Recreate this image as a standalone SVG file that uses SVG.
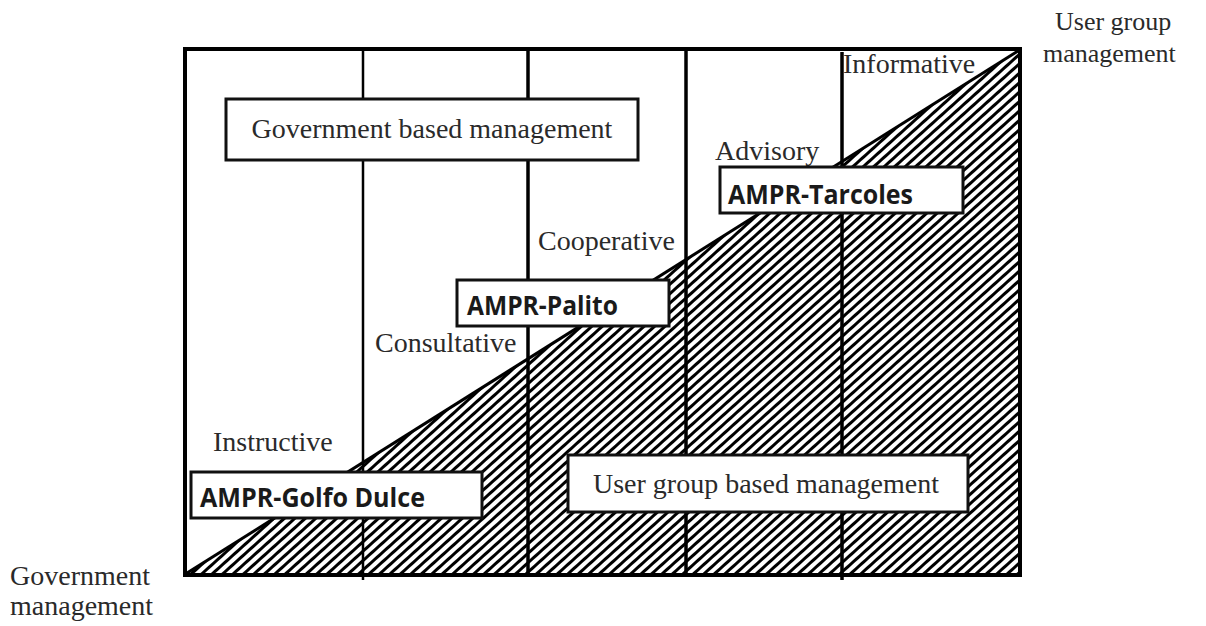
<svg xmlns="http://www.w3.org/2000/svg" width="1206" height="626" viewBox="0 0 1206 626">
<style>
.lbl{font-family:"Liberation Serif","Times New Roman",serif;font-size:28px;fill:#2a2a2a}
.bold{font-family:"Open Sans","Noto Sans",sans-serif;font-weight:700;font-size:27px;fill:#1a1a1a}
.box{fill:#fff;stroke:#111;stroke-width:3}
.vl{stroke:#000;fill:none}
</style>
<defs>
<pattern id="hatch" width="7" height="7" patternUnits="userSpaceOnUse" patternTransform="rotate(-42)">
<rect width="7" height="3" fill="#000"/>
</pattern>
</defs>
<rect width="1206" height="626" fill="#fff"/>
<g id="hatched-area">
<polygon points="187,573 1018,51 1018,573" fill="url(#hatch)"/>
<line x1="187" y1="573" x2="1018" y2="51" stroke="#000" stroke-width="3"/>
</g>
<g id="connectors">
<line class="vl" x1="363" y1="49" x2="363" y2="580" stroke-width="2.5"/>
<line class="vl" x1="528" y1="49" x2="528" y2="575" stroke-width="3.5"/>
<line class="vl" x1="686" y1="49" x2="686" y2="575" stroke-width="3.5"/>
<line class="vl" x1="842" y1="52" x2="842" y2="580" stroke-width="3.5"/>
</g>
<g id="frame">
<rect x="185" y="49" width="835" height="526" fill="none" stroke="#000" stroke-width="4"/>
</g>
<g id="gov-based">
<rect class="box" x="226" y="99" width="412" height="61"/>
<text class="lbl" x="432" y="138" text-anchor="middle">Government based management</text>
</g>
<g id="user-based">
<rect class="box" x="568" y="455" width="400" height="57"/>
<text class="lbl" x="766" y="493" text-anchor="middle">User group based management</text>
</g>
<g id="instructive"><text class="lbl" x="213" y="451">Instructive</text></g>
<g id="consultative"><text class="lbl" x="375" y="352">Consultative</text></g>
<g id="cooperative"><text class="lbl" x="538" y="250">Cooperative</text></g>
<g id="advisory"><text class="lbl" x="715" y="160">Advisory</text></g>
<g id="informative"><text class="lbl" x="843" y="73">Informative</text></g>
<g id="golfo-dulce">
<rect class="box" x="191" y="472" width="291" height="46"/>
<text class="bold" x="200" y="507" textLength="225" lengthAdjust="spacingAndGlyphs">AMPR-Golfo Dulce</text>
</g>
<g id="palito">
<rect class="box" x="457" y="280" width="212" height="46"/>
<text class="bold" x="467" y="315" textLength="151" lengthAdjust="spacingAndGlyphs">AMPR-Palito</text>
</g>
<g id="tarcoles">
<rect class="box" x="720" y="167" width="243" height="46"/>
<text class="bold" x="728" y="204" textLength="185" lengthAdjust="spacingAndGlyphs">AMPR-Tarcoles</text>
</g>
<g id="user-group-management">
<text class="lbl" x="1055" y="30" style="font-size:26px">User group</text>
<text class="lbl" x="1043" y="62" style="font-size:26px">management</text>
</g>
<g id="government-management">
<text class="lbl" x="10" y="585">Government</text>
<text class="lbl" x="10" y="615">management</text>
</g>
</svg>
